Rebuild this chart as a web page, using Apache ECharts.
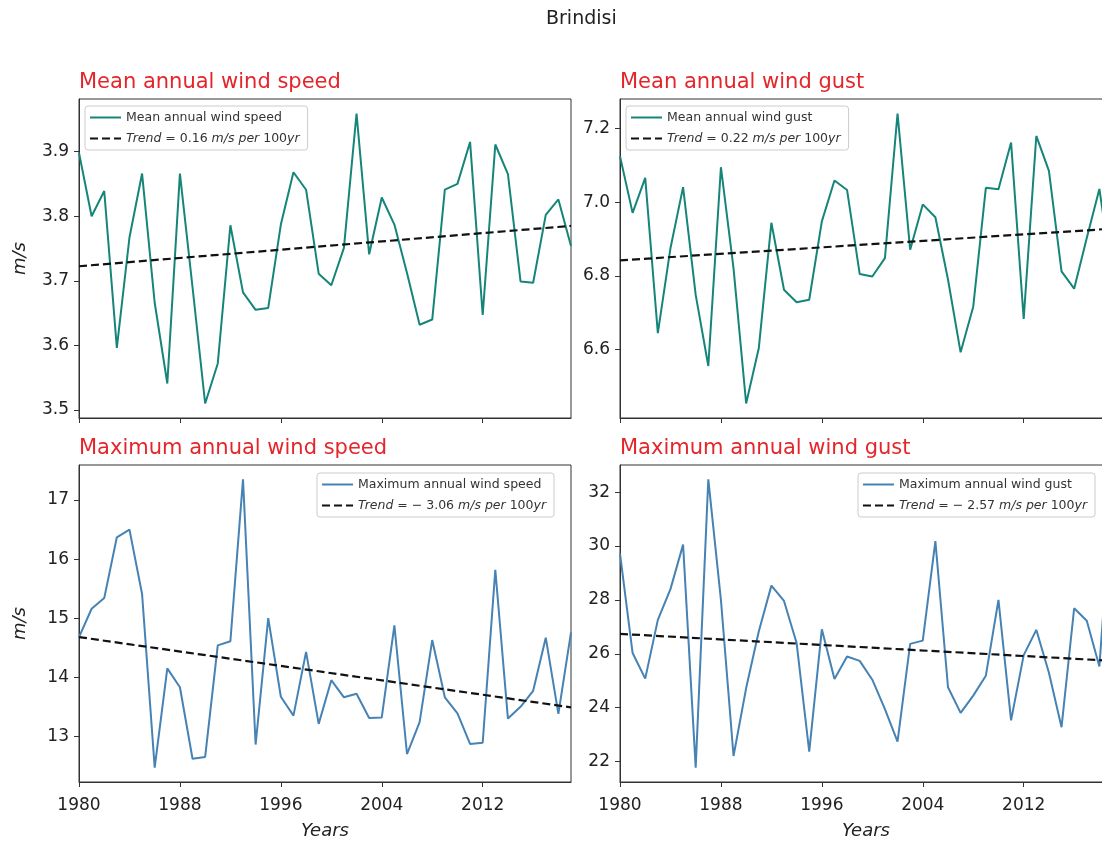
<!DOCTYPE html>
<html>
<head>
<meta charset="utf-8">
<script src="https://cdn.jsdelivr.net/npm/echarts@6/dist/echarts.min.js"></script>
<style>
html,body{margin:0;padding:0;background:#fff;overflow:hidden;}
#chart{width:1124px;height:842px;}
</style>
</head>
<body>
<div id="chart"></div>
<script>
const years = [1980,1981,1982,1983,1984,1985,1986,1987,1988,1989,1990,1991,1992,1993,1994,1995,1996,1997,1998,1999,2000,2001,2002,2003,2004,2005,2006,2007,2008,2009,2010,2011,2012,2013,2014,2015,2016,2017,2018,2019];
const meanSpeed = [3.898,3.800,3.839,3.596,3.767,3.866,3.666,3.541,3.866,3.690,3.510,3.572,3.786,3.682,3.655,3.658,3.787,3.868,3.841,3.711,3.693,3.751,3.959,3.741,3.829,3.787,3.712,3.632,3.640,3.841,3.850,3.915,3.647,3.911,3.865,3.699,3.697,3.802,3.826,3.754];
const meanGust = [7.125,6.971,7.066,6.644,6.875,7.041,6.748,6.555,7.095,6.820,6.453,6.603,6.944,6.762,6.728,6.735,6.948,7.059,7.033,6.805,6.798,6.848,7.241,6.871,6.994,6.959,6.790,6.592,6.716,7.039,7.035,7.162,6.683,7.180,7.085,6.812,6.765,6.903,7.036,6.800];
const maxSpeed = [14.68,15.16,15.34,16.37,16.50,15.41,12.47,14.15,13.83,12.62,12.65,14.54,14.61,17.35,12.86,15.00,13.67,13.35,14.43,13.21,13.95,13.66,13.72,13.31,13.32,14.88,12.70,13.24,14.63,13.66,13.39,12.87,12.89,15.82,13.30,13.50,13.77,14.67,13.38,14.76];
const maxGust = [29.72,26.03,25.08,27.26,28.40,30.05,21.78,32.47,28.00,22.21,24.73,26.83,28.53,27.96,26.40,22.37,26.91,25.07,25.90,25.74,25.04,23.95,22.74,26.37,26.49,30.18,24.76,23.81,24.45,25.19,28.00,23.53,25.95,26.89,25.30,23.28,27.69,27.23,25.53,32.00];

const trendYears = [1980, 2019];
const trendMeanSpeed = [3.7225, 3.785];
const trendMeanGust = [6.842, 6.928];
const trendMaxSpeed = [14.68, 13.49];
const trendMaxGust = [26.74, 25.74];

const xTicks = [1980, 1988, 1996, 2004, 2012];
const yTicksMeanSpeed = [3.5, 3.6, 3.7, 3.8, 3.9];
const yTicksMeanGust = [6.6, 6.8, 7.0, 7.2];
const yTicksMaxSpeed = [13, 14, 15, 16, 17];
const yTicksMaxGust = [22, 24, 26, 28, 30, 32];

const FONT = 'DejaVu Sans';
const TXT = '#222';
const SPINE = '#333';

const panels = [
  {title:'Mean annual wind speed', values:meanSpeed, trend:trendMeanSpeed, yTicks:yTicksMeanSpeed, dec:1,
   trendName:'Trend = 0.16 m/s per 100yr', trendRich:'{i|Trend} = 0.16 {i|m/s per} 100{i|yr}',
   color:'#168579', left:79, top:99, height:319, legendLeft:85, legendTop:106, bottomRow:false, yName:true},
  {title:'Mean annual wind gust', values:meanGust, trend:trendMeanGust, yTicks:yTicksMeanGust, dec:1,
   trendName:'Trend = 0.22 m/s per 100yr', trendRich:'{i|Trend} = 0.22 {i|m/s per} 100{i|yr}',
   color:'#168579', left:620, top:99, height:319, legendLeft:626, legendTop:106, bottomRow:false, yName:false},
  {title:'Maximum annual wind speed', values:maxSpeed, trend:trendMaxSpeed, yTicks:yTicksMaxSpeed, dec:0,
   trendName:'Trend = − 3.06 m/s per 100yr', trendRich:'{i|Trend} = − 3.06 {i|m/s per} 100{i|yr}',
   color:'#4682b4', left:79, top:465, height:317, legendLeft:317, legendTop:473, bottomRow:true, yName:true},
  {title:'Maximum annual wind gust', values:maxGust, trend:trendMaxGust, yTicks:yTicksMaxGust, dec:0,
   trendName:'Trend = − 2.57 m/s per 100yr', trendRich:'{i|Trend} = − 2.57 {i|m/s per} 100{i|yr}',
   color:'#4682b4', left:620, top:465, height:317, legendLeft:858, legendTop:473, bottomRow:true, yName:false}
];

const seriesNames = ['Mean annual wind speed','Mean annual wind gust','Maximum annual wind speed','Maximum annual wind gust'];

function limits(vals, tr) {
  const all = vals.concat(tr);
  const lo = Math.min.apply(null, all), hi = Math.max.apply(null, all);
  const m = (hi - lo) * 0.05;
  return [lo - m, hi + m];
}

const option = {
  animation: false,
  backgroundColor: '#fff',
  title: [{
    text: 'Brindisi', left: 546, top: 10, padding: 0,
    textStyle: {fontFamily: FONT, fontSize: 19, fontWeight: 'normal', color: TXT}
  }],
  grid: [], xAxis: [], yAxis: [], series: [], legend: []
};

panels.forEach((p, i) => {
  const lim = limits(p.values, p.trend);
  option.title.push({
    text: p.title, left: p.left, top: p.bottomRow ? 438 : 72, padding: 0,
    textStyle: {fontFamily: FONT, fontSize: 21, fontWeight: 'normal', color: '#e4262b'}
  });
  option.grid.push({left: p.left, top: p.top, width: 492, height: p.height,
    show: true, borderColor: SPINE, borderWidth: 1, backgroundColor: 'transparent'});
  option.xAxis.push({
    type: 'value', gridIndex: i, min: 1980, max: 2019,
    name: p.bottomRow ? 'Years' : '', nameLocation: 'middle', nameGap: 40,
    nameTextStyle: {fontFamily: FONT, fontSize: 18, fontStyle: 'italic', color: TXT},
    axisLine: {show: true, lineStyle: {color: SPINE, width: 1}},
    axisTick: {show: true, inside: false, length: 5, customValues: xTicks, lineStyle: {color: SPINE}},
    axisLabel: {show: p.bottomRow, customValues: xTicks, margin: 15, fontFamily: FONT, fontSize: 17, color: TXT,
      formatter: v => String(Math.round(v))},
    splitLine: {show: false}
  });
  option.yAxis.push({
    type: 'value', gridIndex: i, min: lim[0], max: lim[1],
    name: p.yName ? 'm/s' : '', nameLocation: 'middle', nameGap: 50, nameRotate: 90,
    nameTextStyle: {fontFamily: FONT, fontSize: 18, fontStyle: 'italic', color: TXT},
    axisLine: {show: true, lineStyle: {color: SPINE, width: 1}},
    axisTick: {show: true, inside: false, length: 5, customValues: p.yTicks, lineStyle: {color: SPINE}},
    axisLabel: {show: true, customValues: p.yTicks, margin: 10, fontFamily: FONT, fontSize: 17, color: TXT,
      formatter: v => Number(v).toFixed(p.dec)},
    splitLine: {show: false}
  });
  option.series.push({
    name: seriesNames[i], type: 'line', xAxisIndex: i, yAxisIndex: i,
    data: years.map((y, k) => [y, p.values[k]]),
    symbol: 'none', lineStyle: {color: p.color, width: 2}, itemStyle: {color: p.color},
    clip: true, z: 2
  });
  option.series.push({
    name: p.trendName, type: 'line', xAxisIndex: i, yAxisIndex: i,
    data: trendYears.map((y, k) => [y, p.trend[k]]),
    symbol: 'none', lineStyle: {color: '#111', width: 2.2, type: [8, 4]}, itemStyle: {color: '#111'},
    clip: true, z: 3
  });
  const richMap = {}; richMap[p.trendName] = p.trendRich;
  option.legend.push({
    data: [seriesNames[i], p.trendName],
    left: p.legendLeft, top: p.legendTop, orient: 'vertical',
    itemWidth: 31, itemHeight: 14, itemGap: 8,
    padding: [5, 8, 5, 4],
    backgroundColor: 'rgba(255,255,255,0.85)', borderColor: '#cccccc', borderWidth: 1, borderRadius: 3,
    selectedMode: false,
    itemStyle: {opacity: 0},
    formatter: name => richMap[name] || name,
    textStyle: {fontFamily: FONT, fontSize: 12.5, color: '#333',
      rich: {i: {fontFamily: FONT, fontSize: 12.5, fontStyle: 'italic', color: '#333'}}}
  });
});

const chart = echarts.init(document.getElementById('chart'), null, {renderer: 'canvas'});
chart.setOption(option);
</script>
</body>
</html>
